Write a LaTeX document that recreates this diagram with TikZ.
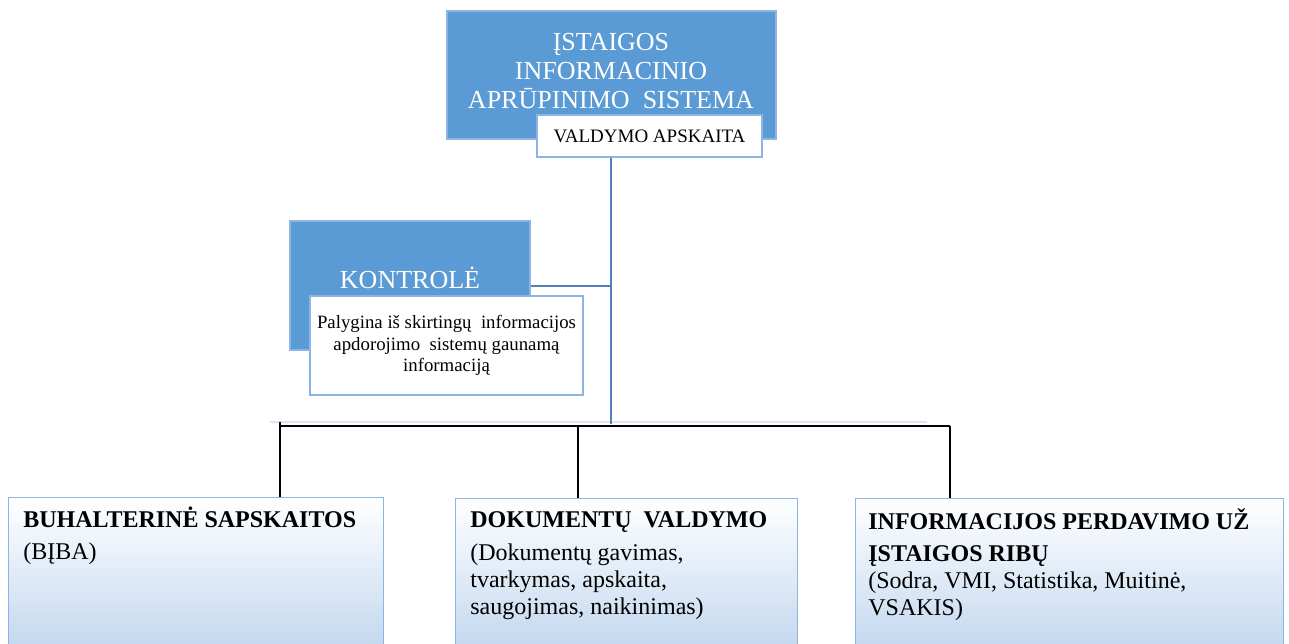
\documentclass[tikz,border=0pt]{standalone}
\usepackage{fontspec}
\setmainfont{Liberation Serif}
\usetikzlibrary{positioning}

\definecolor{sysblue}{HTML}{5B9BD5}
\definecolor{boxedge}{HTML}{8DB4E2}
\definecolor{lowblue}{HTML}{BFD5EE}
\definecolor{lineblue}{HTML}{4F81BD}
\definecolor{faintblue}{HTML}{DCE6F2}

\begin{document}
\begin{tikzpicture}[x=0.5pt,y=-0.5pt,
  bluebox/.style={draw=boxedge, fill=sysblue, line width=0.6pt, inner sep=0pt},
  bluetext/.style={text=white, align=center, inner sep=0pt, font=\fontsize{13}{14.7}\selectfont},
  whitebox/.style={draw=boxedge, fill=white, line width=0.6pt, align=center, inner sep=0pt},
  lowbox/.style={draw=boxedge, line width=0.6pt, top color=white, bottom color=lowblue, anchor=north west, minimum height=80pt, inner sep=0pt},
  lowtext/.style={align=left, inner sep=0pt, font=\fontsize{12}{13.5}\selectfont},
  blueline/.style={draw=lineblue, line width=1.4pt},
  faintline/.style={draw=faintblue, line width=1pt},
  conn/.style={draw=black, line width=0.75pt}]
  \useasboundingbox (0,0) rectangle (1289,643);
  \clip (0,0) rectangle (1289,643);

  \node[bluebox, minimum width=164.5pt, minimum height=64pt] at (611.5,75) (sys) {};
  \node[bluetext] at (611,71) (syst) {ĮSTAIGOS\\INFORMACINIO\\APRŪPINIMO~ SISTEMA};
  \node[whitebox, minimum width=112.5pt, minimum height=21pt, font=\fontsize{9.5}{11}\selectfont] at (649.5,136) (valdymo) {VALDYMO APSKAITA};

  \node[bluebox, minimum width=120pt, minimum height=64.5pt] at (410,285.5) (kontr) {};
  \node[bluetext] at (410,278) (kontrt) {KONTROLĖ};
  \node[whitebox, minimum width=136.5pt, minimum height=49.5pt, font=\fontsize{9.4}{10.75}\selectfont] at (446.5,345.5) (palyg) {Palygina iš skirtingų~ informacijos\\apdorojimo~ sistemų gaunamą\\informaciją};

  \node[lowbox, minimum width=187.5pt] at (8,497) (buh) {};
  \node[lowbox, minimum width=171pt] at (455,498) (dok) {};
  \node[lowbox, minimum width=214pt] at (855,498) (inf) {};
  \node[lowtext, below right=5pt and 7.5pt of buh.north west] (buht) {\strut\textbf{BUHALTERINĖ SAPSKAITOS}\\[2.5pt](BĮBA)};
  \node[lowtext, below right=5pt and 7.5pt of dok.north west] (dokt) {\strut\textbf{DOKUMENTŲ~ VALDYMO}\\[3pt](Dokumentų gavimas,\\tvarkymas, apskaita,\\saugojimas, naikinimas)};
  \node[lowtext, below right=5pt and 6.5pt of inf.north west] (inft) {\strut\textbf{INFORMACIJOS PERDAVIMO UŽ}\\[2.5pt]\textbf{ĮSTAIGOS RIBŲ}\\(Sodra, VMI, Statistika, Muitinė,\\VSAKIS)};

  \coordinate (hub) at (611,424);
  \coordinate (ktap) at (611,286);
  \coordinate (fl) at (270,422);
  \coordinate (fr) at (927,422);
  \coordinate (busl) at (280,426);
  \coordinate (bus2) at (578,426);
  \coordinate (busr) at (950,426);
  \draw[faintline] (fl) -- (fr);
  \draw[blueline] (valdymo.south -| hub) -- (hub);
  \draw[blueline] (ktap -| kontr.east) -- (ktap);
  \draw[conn] (busl) -- (busr);
  \draw[conn] ([yshift=2pt]busl) -- (busl |- buh.north);
  \draw[conn] (bus2) -- (bus2 |- dok.north);
  \draw[conn] (busr) -- (busr |- inf.north);
\end{tikzpicture}
\end{document}
